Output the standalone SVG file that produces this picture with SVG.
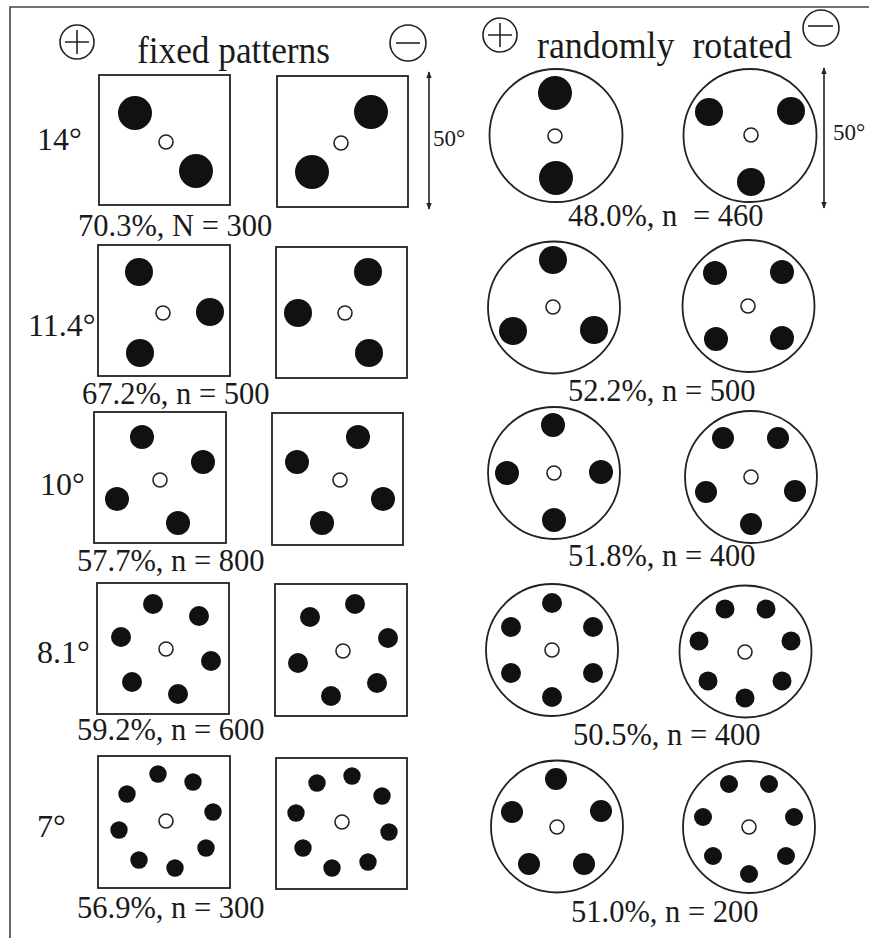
<svg xmlns="http://www.w3.org/2000/svg" width="869" height="938" viewBox="0 0 869 938">
<style>
text{font-family:"Liberation Serif","Times New Roman",serif;fill:#1a1a1a}
.h{font-size:38px}
.l{font-size:30.5px}
.d{font-size:32px}
.s{font-size:23px}
.box{fill:#fff;stroke:#222;stroke-width:1.8}
.ring{fill:#fff;stroke:#222;stroke-width:1.8}
.dot{fill:#111}
.fix{fill:#fff;stroke:#222;stroke-width:1.6}
.sym{fill:none;stroke:#222;stroke-width:1.6}
.dim{stroke:#222;stroke-width:1.6;fill:none}
</style>
<defs>
<marker id="ah" viewBox="0 0 10 10" refX="9" refY="5" markerWidth="7" markerHeight="9" markerUnits="userSpaceOnUse" orient="auto-start-reverse">
<path d="M0,1 L10,5 L0,9 Z" fill="#222"/>
</marker>
</defs>
<rect width="869" height="938" fill="#fff"/>
<path d="M10,938 V7 H869" fill="none" stroke="#444" stroke-width="1.6"/>

<g id="header">
<g id="plus-left"><circle class="sym" cx="77" cy="42" r="17"/><path class="sym" d="M65,42 H89 M77,30 V54"/></g>
<text class="h" x="137" y="63" textLength="193" lengthAdjust="spacingAndGlyphs">fixed patterns</text>
<g id="minus-left"><circle class="sym" cx="408" cy="43" r="18"/><path class="sym" d="M396,43 H420"/></g>
<g id="plus-right"><circle class="sym" cx="500" cy="35" r="17"/><path class="sym" d="M488,35 H512 M500,23 V47"/></g>
<text class="h" x="537" y="58" xml:space="preserve" textLength="255" lengthAdjust="spacingAndGlyphs">randomly  rotated</text>
<g id="minus-right"><circle class="sym" cx="821" cy="28" r="18"/><path class="sym" d="M808,26 H833"/></g>
</g>

<g id="connectors">
<line class="dim" x1="429" y1="72" x2="429" y2="209" marker-start="url(#ah)" marker-end="url(#ah)"/>
<line class="dim" x1="824" y1="68" x2="824" y2="208" marker-start="url(#ah)" marker-end="url(#ah)"/>
</g>
<text class="s" x="433" y="146">50°</text>
<text class="s" x="833" y="140">50°</text>

<!-- Row 1 -->
<text class="d" x="37" y="150">14°</text>
<g id="fix-plus-14">
<rect class="box" x="99" y="75" width="131" height="130"/>
<circle class="dot" cx="135" cy="113" r="17"/><circle class="dot" cx="196" cy="171" r="17"/>
<circle class="fix" cx="166" cy="142" r="7"/>
</g>
<g id="fix-minus-14">
<rect class="box" x="277" y="76" width="131" height="131"/>
<circle class="dot" cx="371" cy="112" r="17"/><circle class="dot" cx="312" cy="172" r="17"/>
<circle class="fix" cx="341" cy="143" r="7"/>
</g>
<text class="l" x="78" y="236">70.3%, N = 300</text>
<g id="rot-plus-14">
<circle class="ring" cx="556" cy="135.5" r="66.5"/>
<circle class="dot" cx="555" cy="93" r="17"/><circle class="dot" cx="556" cy="178" r="17"/>
<circle class="fix" cx="555" cy="136" r="7"/>
</g>
<g id="rot-minus-14">
<circle class="ring" cx="750" cy="135.5" r="66.5"/>
<circle class="dot" cx="709" cy="112" r="14"/><circle class="dot" cx="791" cy="111" r="14"/><circle class="dot" cx="751" cy="182" r="14"/>
<circle class="fix" cx="751" cy="135" r="7"/>
</g>
<text class="l" x="568" y="226">48.0%, n <tspan dx="8">= 460</tspan></text>

<!-- Row 2 -->
<text class="d" x="28" y="336">11.4°</text>
<g id="fix-plus-11">
<rect class="box" x="98" y="245" width="132" height="131"/>
<circle class="dot" cx="139" cy="272" r="14"/><circle class="dot" cx="210" cy="312" r="14"/><circle class="dot" cx="140" cy="353" r="14"/>
<circle class="fix" cx="163" cy="313" r="7"/>
</g>
<g id="fix-minus-11">
<rect class="box" x="276" y="247" width="131" height="131"/>
<circle class="dot" cx="368" cy="272" r="14"/><circle class="dot" cx="298" cy="313" r="14"/><circle class="dot" cx="369" cy="353" r="14"/>
<circle class="fix" cx="345" cy="313" r="7"/>
</g>
<text class="l" x="82" y="404">67.2%, n = 500</text>
<g id="rot-plus-11">
<circle class="ring" cx="554" cy="307.5" r="66"/>
<circle class="dot" cx="553" cy="260" r="14"/><circle class="dot" cx="513" cy="331" r="14"/><circle class="dot" cx="594" cy="330" r="14"/>
<circle class="fix" cx="553" cy="307" r="7"/>
</g>
<g id="rot-minus-11">
<circle class="ring" cx="748.5" cy="306" r="66"/>
<circle class="dot" cx="715" cy="273" r="12"/><circle class="dot" cx="782" cy="272" r="12"/><circle class="dot" cx="716" cy="339" r="12"/><circle class="dot" cx="782" cy="338" r="12"/>
<circle class="fix" cx="748" cy="306" r="7"/>
</g>
<text class="l" x="568" y="401">52.2%, n = 500</text>

<!-- Row 3 -->
<text class="d" x="40" y="495">10°</text>
<g id="fix-plus-10">
<rect class="box" x="94" y="412" width="132" height="131"/>
<circle class="dot" cx="142" cy="437" r="12"/><circle class="dot" cx="203" cy="462" r="12"/><circle class="dot" cx="117" cy="499" r="12"/><circle class="dot" cx="178" cy="523" r="12"/>
<circle class="fix" cx="160" cy="480" r="7"/>
</g>
<g id="fix-minus-10">
<rect class="box" x="272" y="413" width="131" height="132"/>
<circle class="dot" cx="358" cy="437" r="12"/><circle class="dot" cx="297" cy="462" r="12"/><circle class="dot" cx="383" cy="499" r="12"/><circle class="dot" cx="322" cy="523" r="12"/>
<circle class="fix" cx="340" cy="480" r="7"/>
</g>
<text class="l" x="77" y="571">57.7%, n = 800</text>
<g id="rot-plus-10">
<circle class="ring" cx="554" cy="473" r="66"/>
<circle class="dot" cx="553" cy="425" r="12"/><circle class="dot" cx="507" cy="473" r="12"/><circle class="dot" cx="601" cy="472" r="12"/><circle class="dot" cx="554" cy="520" r="12"/>
<circle class="fix" cx="554" cy="473" r="7"/>
</g>
<g id="rot-minus-10">
<circle class="ring" cx="751" cy="477" r="66"/>
<circle class="dot" cx="723" cy="438" r="11"/><circle class="dot" cx="778" cy="438" r="11"/><circle class="dot" cx="706" cy="492" r="11"/><circle class="dot" cx="795" cy="491" r="11"/><circle class="dot" cx="751" cy="524" r="11"/>
<circle class="fix" cx="751" cy="477" r="7"/>
</g>
<text class="l" x="568" y="566">51.8%, n = 400</text>

<!-- Row 4 -->
<text class="d" x="37" y="663">8.1°</text>
<g id="fix-plus-8">
<rect class="box" x="97" y="583" width="132" height="131"/>
<circle class="dot" cx="153" cy="604" r="10"/><circle class="dot" cx="199" cy="616" r="10"/><circle class="dot" cx="121" cy="637" r="10"/><circle class="dot" cx="211" cy="661" r="10"/><circle class="dot" cx="132" cy="682" r="10"/><circle class="dot" cx="178" cy="694" r="10"/>
<circle class="fix" cx="166" cy="649" r="7"/>
</g>
<g id="fix-minus-8">
<rect class="box" x="275" y="584" width="132" height="132"/>
<circle class="dot" cx="355" cy="604" r="10"/><circle class="dot" cx="310" cy="617" r="10"/><circle class="dot" cx="388" cy="638" r="10"/><circle class="dot" cx="298" cy="663" r="10"/><circle class="dot" cx="377" cy="683" r="10"/><circle class="dot" cx="331" cy="696" r="10"/>
<circle class="fix" cx="343" cy="651" r="7"/>
</g>
<text class="l" x="77" y="740">59.2%, n = 600</text>
<g id="rot-plus-8">
<circle class="ring" cx="552" cy="650" r="66"/>
<circle class="dot" cx="552" cy="603" r="10"/><circle class="dot" cx="511" cy="627" r="10"/><circle class="dot" cx="593" cy="627" r="10"/><circle class="dot" cx="511" cy="673" r="10"/><circle class="dot" cx="593" cy="673" r="10"/><circle class="dot" cx="552" cy="697" r="10"/>
<circle class="fix" cx="552" cy="650" r="7"/>
</g>
<g id="rot-minus-8">
<circle class="ring" cx="745.5" cy="651.5" r="66"/>
<circle class="dot" cx="725" cy="609" r="9.5"/><circle class="dot" cx="766" cy="609" r="9.5"/><circle class="dot" cx="699" cy="641" r="9.5"/><circle class="dot" cx="791" cy="641" r="9.5"/><circle class="dot" cx="708" cy="681" r="9.5"/><circle class="dot" cx="782" cy="681" r="9.5"/><circle class="dot" cx="745" cy="698" r="9.5"/>
<circle class="fix" cx="745" cy="652" r="7"/>
</g>
<text class="l" x="573" y="745">50.5%, n = 400</text>

<!-- Row 5 -->
<text class="d" x="37" y="837">7°</text>
<g id="fix-plus-7">
<rect class="box" x="98" y="756" width="132" height="132"/>
<circle class="dot" cx="158" cy="774" r="8.7"/><circle class="dot" cx="193" cy="782" r="8.7"/><circle class="dot" cx="127" cy="794" r="8.7"/><circle class="dot" cx="213" cy="812" r="8.7"/><circle class="dot" cx="119" cy="830" r="8.7"/><circle class="dot" cx="206" cy="848" r="8.7"/><circle class="dot" cx="139" cy="860" r="8.7"/><circle class="dot" cx="175" cy="868" r="8.7"/>
<circle class="fix" cx="166" cy="821" r="7"/>
</g>
<g id="fix-minus-7">
<rect class="box" x="276" y="758" width="131" height="131"/>
<circle class="dot" cx="352" cy="776" r="8.7"/><circle class="dot" cx="317" cy="783" r="8.7"/><circle class="dot" cx="382" cy="796" r="8.7"/><circle class="dot" cx="296" cy="813" r="8.7"/><circle class="dot" cx="389" cy="832" r="8.7"/><circle class="dot" cx="303" cy="848" r="8.7"/><circle class="dot" cx="368" cy="862" r="8.7"/><circle class="dot" cx="332" cy="868" r="8.7"/>
<circle class="fix" cx="342" cy="822" r="7"/>
</g>
<text class="l" x="77" y="918">56.9%, n = 300</text>
<g id="rot-plus-7">
<circle class="ring" cx="557" cy="826.5" r="66"/>
<circle class="dot" cx="556" cy="779" r="11"/><circle class="dot" cx="512" cy="812" r="11"/><circle class="dot" cx="601" cy="811" r="11"/><circle class="dot" cx="529" cy="864" r="11"/><circle class="dot" cx="584" cy="864" r="11"/>
<circle class="fix" cx="557" cy="827" r="7"/>
</g>
<g id="rot-minus-7">
<circle class="ring" cx="749" cy="827" r="66"/>
<circle class="dot" cx="729" cy="784" r="9"/><circle class="dot" cx="769" cy="784" r="9"/><circle class="dot" cx="703" cy="817" r="9"/><circle class="dot" cx="794" cy="817" r="9"/><circle class="dot" cx="713" cy="856" r="9"/><circle class="dot" cx="786" cy="856" r="9"/><circle class="dot" cx="749" cy="874" r="9"/>
<circle class="fix" cx="749" cy="827" r="7"/>
</g>
<text class="l" x="571" y="922">51.0%, n = 200</text>
</svg>
